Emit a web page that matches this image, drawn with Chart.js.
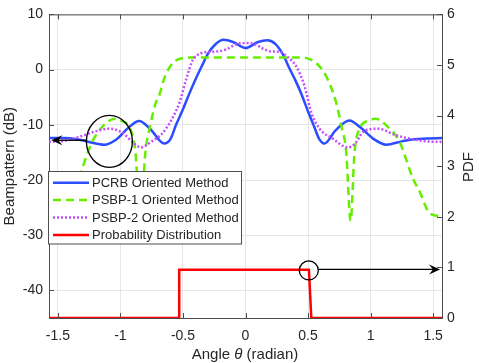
<!DOCTYPE html>
<html>
<head>
<meta charset="utf-8">
<script src="https://cdn.jsdelivr.net/npm/chart.js@4.4.1/dist/chart.umd.min.js"></script>
<style>
html, body { margin: 0; padding: 0; background: #fff; }
</style>
</head>
<body>
<canvas id="beamChart" width="479" height="363"></canvas>
<script>
// tick labels
var angleTicks = [-1.5, -1, -0.5, 0, 0.5, 1, 1.5];
var dbTicks = [-40, -30, -20, -10, 0, 10];
var pdfTicks = [0, 1, 2, 3, 4, 5, 6];

var seriesNames = ["PCRB Oriented Method", "PSBP-1 Oriented Method", "PSBP-2 Oriented Method", "Probability Distribution"];

// PCRB oriented beampattern (dB)
var pcrbAngle = [-1.571, -1.45, -1.35, -1.25, -1.13, -1.03, -0.94, -0.85, -0.76, -0.65, -0.6, -0.555, -0.5, -0.45, -0.4, -0.35, -0.3, -0.24, -0.176, -0.1, 0,
    0.1, 0.176, 0.24, 0.3, 0.35, 0.4, 0.45, 0.5, 0.55, 0.59, 0.63, 0.72, 0.83, 0.92, 1.02, 1.125, 1.25, 1.35, 1.45, 1.571];
var pcrbDb = [-12.4, -12.4, -12.6, -13.1, -13.6, -12.6, -10.6, -9.3, -10.8, -13.4, -12.6, -10, -7.2, -4.4, -1.8, 0.6, 2.9, 4.6, 5.4, 5.0, 3.9,
    5.0, 5.3, 4.6, 2.7, 0.3, -2.0, -4.6, -7.6, -10.4, -12.6, -13.4, -11.0, -9.2, -10.5, -12.5, -13.6, -13.0, -12.6, -12.5, -12.4];

// PSBP-1 oriented beampattern (dB)
var psbp1Angle = [-1.571, -1.47, -1.39, -1.34, -1.23, -1.13, -1.04, -0.99, -0.92, -0.88, -0.84, -0.8, -0.765, -0.72, -0.69, -0.645, -0.58, -0.5, -0.45,
    0, 0.46, 0.5, 0.565, 0.645, 0.725, 0.765, 0.805, 0.84, 0.872, 0.912, 0.99, 1.04, 1.125, 1.232, 1.338, 1.392, 1.472, 1.571];
var psbp1Db = [-26.6, -25.9, -22.2, -20.0, -13.3, -10.0, -8.9, -9.3, -10.8, -14.9, -27.4, -14.9, -10.5, -6.2, -4.7, -1.3, 1.2, 2.1, 2.2,
    2.2, 2.2, 2.0, 1.2, -1.2, -6.0, -10.1, -14.9, -27.4, -14.9, -10.7, -9.2, -8.9, -10.1, -13.1, -19.7, -22.1, -26.0, -26.6];

// PSBP-2 oriented beampattern (dB)
var psbp2Angle = [-1.571, -1.45, -1.33, -1.2, -1.09, -0.98, -0.9, -0.835, -0.75, -0.68, -0.635, -0.58, -0.528, -0.475, -0.42, -0.36, -0.3, -0.22, -0.15, -0.075, 0,
    0.075, 0.14, 0.2, 0.28, 0.33, 0.405, 0.472, 0.525, 0.592, 0.698, 0.819, 0.88, 0.939, 1.059, 1.205, 1.312, 1.45, 1.571];
var psbp2Db = [-13.1, -12.9, -12.2, -11.2, -10.7, -11.5, -13.2, -14.1, -13.0, -11.9, -10.7, -8.6, -6.0, -1.8, 1.8, 2.9, 3.2, 3.3, 3.7, 4.6, 4.8,
    4.6, 3.8, 3.3, 3.2, 2.4, 0.6, -3.0, -7.7, -10.7, -12.5, -14.1, -13.3, -11.3, -10.7, -11.9, -12.5, -13.0, -13.1];

// probability distribution (right axis)
var pdfAngle = [-1.571, -0.53, -0.53, 0.507, 0.526, 1.571];
var pdfValue = [0, 0, 0.955, 0.955, 0, 0];

function toPoints(xs, ys) {
    return xs.map(function(x, i) { return { x: x, y: ys[i] }; });
}

var textColor = '#262626';
var axisColor = '#4d4d4d';
var fontFamily = '"Liberation Sans", Arial, Helvetica, sans-serif';

var datasetStyles = [
    { color: '#2b4cff', dash: [] },
    { color: '#66ee00', dash: [8, 5] },
    { color: '#c54cff', dash: [2, 2] },
    { color: '#ff0000', dash: [] }
];

function arrowHead(ctx, x, y, dir) {
    ctx.beginPath();
    ctx.moveTo(x, y);
    ctx.lineTo(x - dir * 11, y - 5);
    ctx.lineTo(x - dir * 7, y);
    ctx.lineTo(x - dir * 11, y + 5);
    ctx.closePath();
    ctx.fill();
}

var decorPlugin = {
    id: 'decor',
    afterDatasetsDraw: function(chart) {
        var ctx = chart.ctx;
        var area = chart.chartArea;
        var xs = chart.scales.x, ys = chart.scales.y, ps = chart.scales.y2;
        ctx.save();

        // box top edge and inward tick marks
        ctx.strokeStyle = axisColor;
        ctx.lineWidth = 1;
        ctx.beginPath();
        ctx.moveTo(area.left, area.top + 0.5);
        ctx.lineTo(area.right, area.top + 0.5);
        angleTicks.forEach(function(v) {
            var px = Math.round(xs.getPixelForValue(v)) + 0.5;
            ctx.moveTo(px, area.bottom);
            ctx.lineTo(px, area.bottom - 5);
            ctx.moveTo(px, area.top);
            ctx.lineTo(px, area.top + 5);
        });
        dbTicks.forEach(function(v) {
            var py = Math.round(ys.getPixelForValue(v)) + 0.5;
            ctx.moveTo(area.left, py);
            ctx.lineTo(area.left + 5, py);
        });
        pdfTicks.forEach(function(v) {
            var py = Math.round(ps.getPixelForValue(v)) + 0.5;
            ctx.moveTo(area.right, py);
            ctx.lineTo(area.right - 5, py);
        });
        ctx.stroke();

        // circles and arrows
        ctx.strokeStyle = '#000';
        ctx.fillStyle = '#000';
        ctx.lineWidth = 1.3;
        var cx = xs.getPixelForValue(-1.088), cy = ys.getPixelForValue(-13.0);
        ctx.beginPath();
        ctx.ellipse(cx, cy, 23, 26, 0, 0, Math.PI * 2);
        ctx.stroke();
        var ay = ys.getPixelForValue(-12.8);
        var ax1 = xs.getPixelForValue(-1.272), ax2 = xs.getPixelForValue(-1.552);
        ctx.beginPath();
        ctx.moveTo(ax1, ay);
        ctx.lineTo(ax2 + 6, ay);
        ctx.stroke();
        arrowHead(ctx, ax2, ay, -1);

        var rx = xs.getPixelForValue(0.506), ry = ps.getPixelForValue(0.94);
        ctx.beginPath();
        ctx.arc(rx, ry, 9.5, 0, Math.PI * 2);
        ctx.stroke();
        var by = ps.getPixelForValue(0.96);
        var bx1 = xs.getPixelForValue(0.584), bx2 = xs.getPixelForValue(1.555);
        ctx.beginPath();
        ctx.moveTo(bx1, by);
        ctx.lineTo(bx2 - 6, by);
        ctx.stroke();
        arrowHead(ctx, bx2, by, 1);

        // legend
        var lx = 48.5, ly = 171.5, lw = 193, lh = 72.5;
        ctx.fillStyle = '#fff';
        ctx.fillRect(lx, ly, lw, lh);
        ctx.strokeStyle = axisColor;
        ctx.lineWidth = 1;
        ctx.strokeRect(lx, ly, lw, lh);
        ctx.font = '13px ' + fontFamily;
        ctx.textBaseline = 'middle';
        ctx.textAlign = 'left';
        seriesNames.forEach(function(name, i) {
            var rowY = 182.7 + i * 17.4;
            var st = datasetStyles[i];
            ctx.strokeStyle = st.color;
            ctx.lineWidth = 2.5;
            ctx.setLineDash(st.dash);
            ctx.beginPath();
            ctx.moveTo(53, rowY);
            ctx.lineTo(89, rowY);
            ctx.stroke();
            ctx.setLineDash([]);
            ctx.fillStyle = textColor;
            ctx.fillText(name, 92, rowY + 0.5);
        });

        // bottom and right axis titles
        ctx.fillStyle = textColor;
        ctx.textBaseline = 'alphabetic';
        var part1 = 'Angle ', part2 = '\u03B8', part3 = ' (radian)';
        ctx.font = '15px ' + fontFamily;
        var w1 = ctx.measureText(part1).width, w3 = ctx.measureText(part3).width;
        ctx.font = 'italic 15px ' + fontFamily;
        var w2 = ctx.measureText(part2).width;
        var tx = 245 - (w1 + w2 + w3) / 2, tyBase = 359;
        ctx.font = '15px ' + fontFamily;
        ctx.fillText(part1, tx, tyBase);
        ctx.font = 'italic 15px ' + fontFamily;
        ctx.fillText(part2, tx + w1, tyBase);
        ctx.font = '15px ' + fontFamily;
        ctx.fillText(part3, tx + w1 + w2, tyBase);

        ctx.translate(469, 167);
        ctx.rotate(-Math.PI / 2);
        ctx.textAlign = 'center';
        ctx.textBaseline = 'middle';
        ctx.fillText('PDF', 0, 0);
        ctx.restore();
    }
};

function lineSet(i, xs, ys, axis, order) {
    return {
        label: seriesNames[i],
        data: toPoints(xs, ys),
        yAxisID: axis,
        borderColor: datasetStyles[i].color,
        borderDash: datasetStyles[i].dash,
        borderWidth: 2.5,
        pointRadius: 0,
        fill: false,
        order: order,
        cubicInterpolationMode: axis === 'y' ? 'monotone' : 'default',
        tension: 0
    };
}

var ctx = document.getElementById('beamChart').getContext('2d');
var beamChart = new Chart(ctx, {
    type: 'line',
    data: {
        datasets: [
            lineSet(0, pcrbAngle, pcrbDb, 'y', 4),
            lineSet(1, psbp1Angle, psbp1Db, 'y', 3),
            lineSet(2, psbp2Angle, psbp2Db, 'y', 2),
            lineSet(3, pdfAngle, pdfValue, 'y2', 1)
        ]
    },
    options: {
        responsive: false,
        devicePixelRatio: 1,
        animation: false,
        layout: { padding: { top: 11, left: 0, right: 0, bottom: 0 } },
        plugins: {
            legend: { display: false },
            tooltip: { enabled: false }
        },
        scales: {
            x: {
                type: 'linear',
                min: -Math.PI / 2,
                max: Math.PI / 2,
                afterBuildTicks: function(s) { s.ticks = angleTicks.map(function(v) { return { value: v }; }); },
                afterFit: function(s) { s.height = 45; },
                grid: { color: '#e6e6e6', drawTicks: false },
                border: { color: axisColor, width: 1 },
                ticks: {
                    color: textColor,
                    padding: 10,
                    maxRotation: 0,
                    font: { family: fontFamily, size: 14 },
                    callback: function(v) { return v.toString(); }
                }
            },
            y: {
                position: 'left',
                min: -45,
                max: 10,
                afterBuildTicks: function(s) { s.ticks = dbTicks.map(function(v) { return { value: v }; }); },
                afterFit: function(s) { s.width = 49; },
                grid: { color: '#e6e6e6', drawTicks: false },
                border: { color: axisColor, width: 1 },
                ticks: {
                    color: textColor,
                    padding: 6,
                    font: { family: fontFamily, size: 14 },
                    callback: function(v) { return v.toString(); }
                },
                title: {
                    display: true,
                    text: 'Beampattern (dB)',
                    color: textColor,
                    padding: { top: 1, bottom: 0 },
                    font: { family: fontFamily, size: 15, lineHeight: 1.2 }
                }
            },
            y2: {
                position: 'right',
                min: 0,
                max: 6,
                afterBuildTicks: function(s) { s.ticks = pdfTicks.map(function(v) { return { value: v }; }); },
                afterFit: function(s) { s.width = 37; },
                grid: { drawOnChartArea: false, drawTicks: false },
                border: { color: axisColor, width: 1 },
                ticks: {
                    color: textColor,
                    padding: 5,
                    font: { family: fontFamily, size: 14 },
                    callback: function(v) { return v.toString(); }
                }
            }
        }
    },
    plugins: [decorPlugin]
});
</script>
</body>
</html>
